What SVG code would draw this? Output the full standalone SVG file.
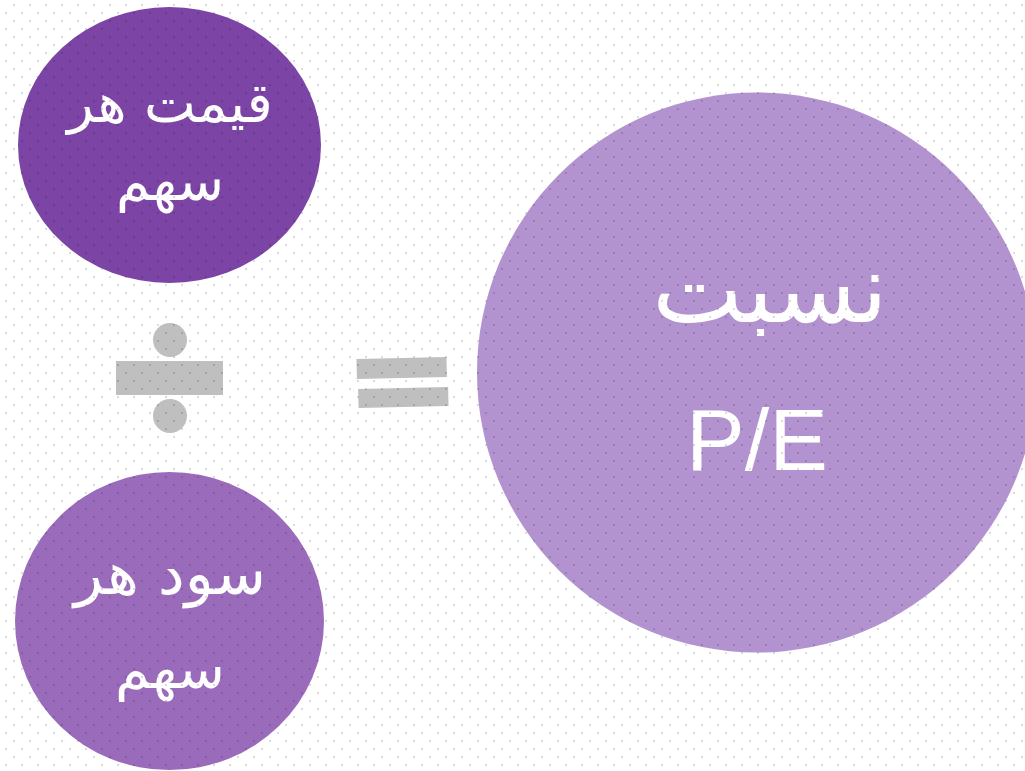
<svg xmlns="http://www.w3.org/2000/svg" width="1025" height="771" viewBox="0 0 1025 771">
<defs>
<pattern id="dots" width="16" height="16" patternUnits="userSpaceOnUse">
<rect x="13" y="4" width="2" height="2" fill="#000" fill-opacity="0.14"/>
<rect x="5" y="12" width="2" height="2" fill="#000" fill-opacity="0.14"/>
</pattern>
<style>
.fa{font-family:"DejaVu Sans","Noto Sans",sans-serif;fill:#fff;text-anchor:middle;direction:rtl}
.en{font-family:"Liberation Sans","Open Sans",sans-serif;fill:#fff;text-anchor:middle}
.op{fill:#bfbfbf}
</style>
</defs>
<rect width="1025" height="771" fill="#fff"/>
<g id="price">
<ellipse cx="169.5" cy="145" rx="151.5" ry="138" fill="#7b44a5"/>
<text class="fa" x="170" y="122" font-size="55">قیمت هر</text>
<text class="fa" x="170" y="200" font-size="55">سهم</text>
</g>
<g id="eps">
<ellipse cx="169.5" cy="621" rx="154.5" ry="149" fill="#9b6bbb"/>
<text class="fa" x="170" y="594" font-size="60">سود هر</text>
<text class="fa" x="170" y="688" font-size="56">سهم</text>
</g>
<g id="pe">
<circle cx="757" cy="372.5" r="280" fill="#b393cf"/>
<text class="fa" x="770" y="322" font-size="96">نسبت</text>
<text class="en" x="757" y="470" font-size="88">P/E</text>
</g>
<g id="divide">
<circle class="op" cx="170" cy="340" r="17"/>
<rect class="op" x="116" y="361" width="107" height="34"/>
<circle class="op" cx="170" cy="416" r="17"/>
</g>
<g id="equals" transform="rotate(-1.3 402 382)">
<rect class="op" x="357" y="358" width="90" height="20"/>
<rect class="op" x="358" y="388" width="90" height="19"/>
</g>
<g id="connectors"></g>
<rect width="1025" height="771" fill="url(#dots)"/>
</svg>
